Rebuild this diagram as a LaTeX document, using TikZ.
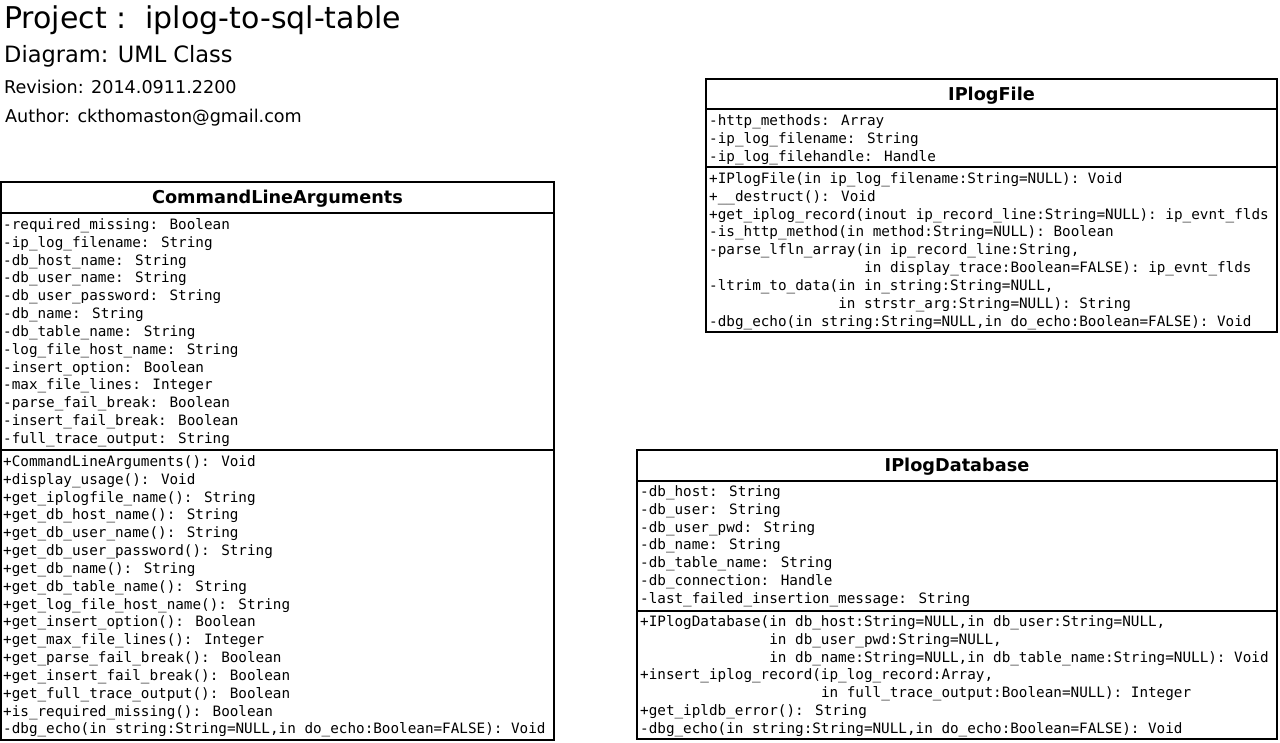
\documentclass[tikz,border=0pt]{standalone}
\usepackage{fontspec}
\setmainfont{DejaVu Sans}
\newfontfamily\monof{DejaVu Sans Mono}
\newcommand\umllines[4]{%
  \foreach \t [count=\i from 0] in {#4} {
    \node[mem, name=#1\i] at (#2, #3+\i*17.83) {\t};
  }%
}
\begin{document}
\begin{tikzpicture}[x=1pt,y=-1pt,
  box/.style={draw=black, line width=2pt},
  sep/.style={draw=black, line width=2pt},
  mem/.style={anchor=base west, inner sep=0pt, font=\monof\fontsize{14.3}{17.83}\selectfont},
  ctitle/.style={anchor=base, inner sep=0pt, font=\bfseries\fontsize{17.7}{20}\selectfont},
  hdr/.style={anchor=base west, inner sep=0pt}]
\useasboundingbox (0,0) rectangle (1280,742);
\fill[white] (0,0) rectangle (1280,742);

% header
\node[hdr, font=\fontsize{30}{34}\selectfont] (proj) at (4,28) {Project :\ \ iplog-to-sql-table};
\node[hdr, font=\fontsize{22.5}{26}\selectfont] (diag) at (4,62) {Diagram: UML Class};
\node[hdr, font=\fontsize{17.6}{20}\selectfont] (rev) at (4,93) {Revision: 2014.0911.2200};
\node[hdr, font=\fontsize{17.6}{20}\selectfont] (auth) at (5,122) {Author: ckthomaston@gmail.com};

% CommandLineArguments
\draw[box] (1,182) rectangle (554,740);
\draw[sep] (1,213) -- (554,213);
\draw[sep] (1,450) -- (554,450);
\node[ctitle] (clatitle) at (277.5,203) {CommandLineArguments};
\umllines{claa}{3}{229.5}{
-required\_missing: Boolean,
-ip\_log\_filename: String,
-db\_host\_name: String,
-db\_user\_name: String,
-db\_user\_password: String,
-db\_name: String,
-db\_table\_name: String,
-log\_file\_host\_name: String,
-insert\_option: Boolean,
-max\_file\_lines: Integer,
-parse\_fail\_break: Boolean,
-insert\_fail\_break: Boolean,
-full\_trace\_output: String}
\umllines{clam}{3}{466.5}{
+CommandLineArguments(): Void,
+display\_usage(): Void,
+get\_iplogfile\_name(): String,
+get\_db\_host\_name(): String,
+get\_db\_user\_name(): String,
+get\_db\_user\_password(): String,
+get\_db\_name(): String,
+get\_db\_table\_name(): String,
+get\_log\_file\_host\_name(): String,
+get\_insert\_option(): Boolean,
+get\_max\_file\_lines(): Integer,
+get\_parse\_fail\_break(): Boolean,
+get\_insert\_fail\_break(): Boolean,
+get\_full\_trace\_output(): Boolean,
+is\_required\_missing(): Boolean,
{-dbg\_echo(in string:String=NULL,in do\_echo:Boolean=FALSE): Void}}

% IPlogFile
\draw[box] (706,79) rectangle (1277,332);
\draw[sep] (706,109) -- (1277,109);
\draw[sep] (706,167) -- (1277,167);
\node[ctitle] (iftitle) at (991.5,100) {IPlogFile};
\umllines{ifa}{709}{125.5}{
-http\_methods: Array,
-ip\_log\_filename: String,
-ip\_log\_filehandle: Handle}
\umllines{ifm}{709}{183.5}{
+IPlogFile(in ip\_log\_filename:String=NULL): Void,
+\_\_destruct(): Void,
+get\_iplog\_record(inout ip\_record\_line:String=NULL): ip\_evnt\_flds,
-is\_http\_method(in method:String=NULL): Boolean,
{-parse\_lfln\_array(in ip\_record\_line:String,},
\phantom{-parse\_lfln\_array(}in display\_trace:Boolean=FALSE): ip\_evnt\_flds,
{-ltrim\_to\_data(in in\_string:String=NULL,},
\phantom{-ltrim\_to\_data(}in strstr\_arg:String=NULL): String,
{-dbg\_echo(in string:String=NULL,in do\_echo:Boolean=FALSE): Void}}

% IPlogDatabase
\draw[box] (637,450) rectangle (1277,739);
\draw[sep] (637,481) -- (1277,481);
\draw[sep] (637,611) -- (1277,611);
\node[ctitle] (idtitle) at (957,471) {IPlogDatabase};
\umllines{ida}{640}{496.5}{
-db\_host: String,
-db\_user: String,
-db\_user\_pwd: String,
-db\_name: String,
-db\_table\_name: String,
-db\_connection: Handle,
-last\_failed\_insertion\_message: String}
\umllines{idm}{640}{626.5}{
{+IPlogDatabase(in db\_host:String=NULL,in db\_user:String=NULL,},
{\phantom{+IPlogDatabase(}in db\_user\_pwd:String=NULL,},
{\phantom{+IPlogDatabase(}in db\_name:String=NULL,in db\_table\_name:String=NULL): Void},
{+insert\_iplog\_record(ip\_log\_record:Array,},
\phantom{+insert\_iplog\_record(}in full\_trace\_output:Boolean=NULL): Integer,
+get\_ipldb\_error(): String,
{-dbg\_echo(in string:String=NULL,in do\_echo:Boolean=FALSE): Void}}
\end{tikzpicture}
\end{document}
